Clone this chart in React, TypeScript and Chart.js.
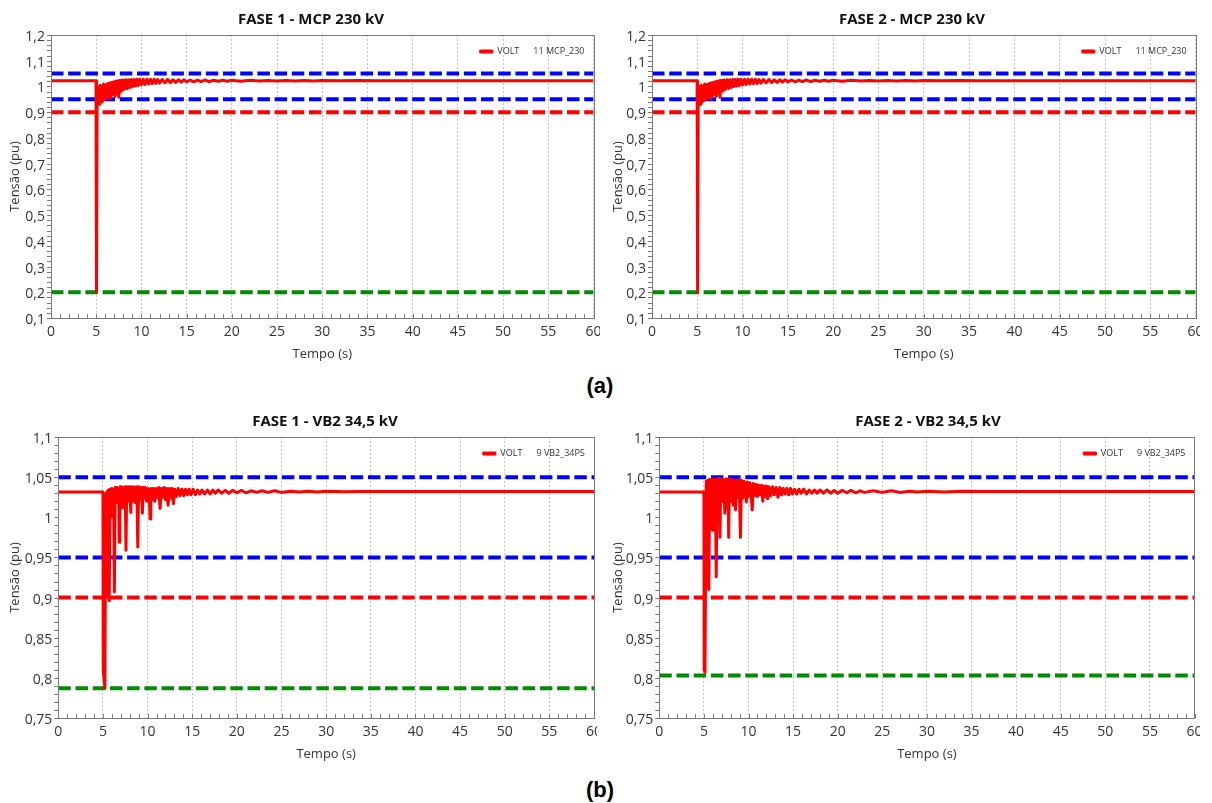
import React, { useEffect, useRef } from 'react';
import { Chart, registerables } from 'chart.js';

Chart.register(...registerables);

const FONT = "'Open Sans', 'DejaVu Sans', sans-serif";

// ---------------- DATA ----------------
// x axis (Tempo, s)
const tempoRange = [0, 60];
const tempoStep = 5;

// 230 kV bus (MCP_230) – same response in both phases
const tempoMCP = [
  0, 4.98, 5.0, 5.02, 5.07, 5.1, 5.16, 5.22, 5.3, 5.38,
  5.46, 5.55, 5.64, 5.72, 5.82, 5.9, 6.0, 6.1, 6.2, 6.3,
  6.4, 6.5, 6.6, 6.7, 6.8, 6.9, 7.0, 7.1, 7.2, 7.3,
  7.4, 7.5, 7.6, 7.7, 7.8, 7.9, 8.0, 8.15, 8.3, 8.45,
  8.6, 8.75, 8.9, 9.05, 9.2, 9.35, 9.5, 9.65, 9.8, 10.0,
  10.2, 10.4, 10.6, 10.8, 11.0, 11.2, 11.4, 11.6, 11.8, 12.0,
  12.3, 12.6, 12.9, 13.2, 13.5, 13.8, 14.1, 14.4, 14.7, 15.0,
  15.4, 15.8, 16.2, 16.6, 17.0, 17.5, 18.0, 18.5, 19.0, 19.5,
  20, 21, 22, 23, 24, 25, 26, 27, 28, 29,
  30, 32, 34, 36, 40, 45, 50, 55, 60,
];
const voltMCP = [
  1.022, 1.022, 1.02, 0.2, 0.2, 0.93, 0.995, 0.935, 1.0, 0.93,
  1.005, 0.94, 1.0, 0.945, 1.01, 0.95, 1.005, 0.955, 1.01, 0.958,
  1.012, 0.952, 1.014, 0.965, 1.016, 0.97, 1.018, 0.962, 1.02, 0.975,
  1.022, 0.958, 1.023, 0.98, 1.024, 0.985, 1.025, 0.99, 1.026, 0.992,
  1.026, 0.996, 1.027, 1.0, 1.027, 1.002, 1.028, 1.004, 1.028, 1.006,
  1.028, 1.008, 1.028, 1.01, 1.028, 1.011, 1.028, 1.012, 1.027, 1.013,
  1.027, 1.014, 1.027, 1.015, 1.026, 1.016, 1.026, 1.017, 1.026, 1.018,
  1.025, 1.018, 1.025, 1.019, 1.025, 1.019, 1.024, 1.02, 1.024, 1.02,
  1.024, 1.02, 1.024, 1.021, 1.023, 1.021, 1.023, 1.021, 1.023, 1.021,
  1.023, 1.022, 1.023, 1.022, 1.022, 1.022, 1.022, 1.022, 1.022,
];

// 34.5 kV bus (VB2_34P5) – phase 1
const tempoVB2F1 = [
  0, 4.98, 5.0, 5.03, 5.12, 5.22, 5.27, 5.33, 5.4, 5.47,
  5.55, 5.62, 5.7, 5.8, 5.9, 6.0, 6.1, 6.2, 6.28, 6.36,
  6.45, 6.55, 6.65, 6.75, 6.82, 6.9, 7.0, 7.1, 7.2, 7.3,
  7.4, 7.5, 7.58, 7.66, 7.8, 7.95, 8.05, 8.12, 8.2, 8.35,
  8.5, 8.65, 8.8, 8.9, 9.0, 9.15, 9.3, 9.42, 9.5, 9.6,
  9.75, 9.9, 10.05, 10.2, 10.28, 10.36, 10.5, 10.65, 10.8, 10.95,
  11.1, 11.25, 11.4, 11.55, 11.7, 11.85, 12.0, 12.15, 12.3, 12.45,
  12.6, 12.75, 12.9, 13.05, 13.25, 13.45, 13.65, 13.85, 14.05, 14.25,
  14.45, 14.65, 14.85, 15.1, 15.35, 15.6, 15.85, 16.1, 16.4, 16.7,
  17.0, 17.3, 17.6, 17.9, 18.3, 18.7, 19.1, 19.5, 20.0, 20.5,
  21, 21.6, 22.2, 22.8, 23.5, 24.2, 25, 26, 27, 28,
  29, 30, 32, 34, 36, 38, 40, 45, 50, 60,
];
const voltVB2F1 = [
  1.0315, 1.0315, 1.03, 0.81, 0.8, 0.787, 0.93, 1.03, 0.9, 1.032,
  0.92, 1.034, 0.896, 1.035, 1.0, 1.036, 1.015, 1.034, 0.907, 1.037,
  1.018, 1.037, 1.025, 1.036, 0.969, 1.038, 1.02, 1.038, 1.012, 1.037,
  1.022, 1.038, 0.959, 1.038, 1.02, 1.038, 1.024, 1.006, 1.038, 1.02,
  1.038, 1.018, 1.038, 0.963, 1.038, 1.022, 1.037, 1.005, 1.037, 1.024,
  1.037, 1.02, 1.036, 1.024, 0.998, 1.036, 1.022, 1.036, 1.02, 1.036,
  1.025, 1.037, 1.011, 1.036, 1.025, 1.037, 1.022, 1.036, 1.015, 1.036,
  1.024, 1.036, 1.017, 1.035, 1.026, 1.036, 1.027, 1.035, 1.027, 1.035,
  1.028, 1.035, 1.028, 1.035, 1.028, 1.034, 1.029, 1.034, 1.029, 1.034,
  1.029, 1.034, 1.03, 1.034, 1.03, 1.0335, 1.03, 1.0335, 1.0305, 1.0335,
  1.0305, 1.033, 1.031, 1.033, 1.031, 1.033, 1.031, 1.0325, 1.0315, 1.0325,
  1.0315, 1.0325, 1.0318, 1.0322, 1.032, 1.032, 1.032, 1.032, 1.032, 1.032,
];

// 34.5 kV bus (VB2_34P5) – phase 2
const tempoVB2F2 = [
  0, 4.98, 5.0, 5.03, 5.12, 5.2, 5.26, 5.35, 5.45, 5.55,
  5.65, 5.75, 5.85, 5.93, 6.02, 6.15, 6.28, 6.38, 6.48, 6.6,
  6.7, 6.8, 6.9, 7.05, 7.2, 7.35, 7.5, 7.62, 7.7, 7.78,
  7.86, 8.0, 8.15, 8.3, 8.45, 8.55, 8.65, 8.8, 8.95, 9.1,
  9.2, 9.35, 9.5, 9.65, 9.76, 9.85, 10.0, 10.15, 10.3, 10.42,
  10.52, 10.7, 10.85, 11.0, 11.15, 11.3, 11.45, 11.6, 11.7, 11.85,
  12.0, 12.15, 12.3, 12.5, 12.7, 12.9, 13.1, 13.3, 13.5, 13.7,
  13.9, 14.1, 14.3, 14.5, 14.7, 14.9, 15.15, 15.4, 15.65, 15.9,
  16.2, 16.5, 16.8, 17.1, 17.4, 17.7, 18.0, 18.4, 18.8, 19.2,
  19.6, 20.0, 20.5, 21, 21.5, 22, 22.5, 23, 24, 25,
  26, 27, 28, 29, 30, 32, 34, 36, 40, 60,
];
const voltVB2F2 = [
  1.0315, 1.0315, 1.03, 0.81, 0.807, 0.95, 1.045, 0.912, 1.046, 0.91,
  1.047, 1.0, 1.047, 0.984, 1.048, 1.02, 1.047, 0.926, 1.048, 1.015,
  1.048, 0.975, 1.048, 1.02, 1.047, 1.005, 1.048, 1.012, 1.047, 0.975,
  1.048, 1.02, 1.047, 1.015, 1.046, 1.009, 1.046, 1.025, 1.047, 0.975,
  1.046, 1.024, 1.045, 1.03, 1.019, 1.044, 1.026, 1.043, 1.028, 1.009,
  1.042, 1.027, 1.041, 1.026, 1.04, 1.028, 1.04, 1.02, 1.039, 1.026,
  1.039, 1.023, 1.038, 1.027, 1.038, 1.028, 1.037, 1.025, 1.037, 1.028,
  1.036, 1.029, 1.036, 1.028, 1.036, 1.029, 1.035, 1.029, 1.035, 1.03,
  1.035, 1.029, 1.034, 1.03, 1.034, 1.03, 1.034, 1.03, 1.034, 1.03,
  1.0335, 1.03, 1.0335, 1.0305, 1.0335, 1.0305, 1.033, 1.031, 1.033, 1.031,
  1.033, 1.031, 1.0325, 1.0315, 1.0325, 1.0315, 1.0325, 1.032, 1.032, 1.032,
];

// Limits: upper blue, lower blue, red, green
const limitsMCP = [1.05, 0.95, 0.9, 0.2];
const limitsVB2F1 = [1.05, 0.95, 0.9, 0.787];
const limitsVB2F2 = [1.05, 0.95, 0.9, 0.803];
const limitColors = ['#0000ff', '#0000ff', '#ff0000', '#008a00'];

// y axis ranges / tick steps
const yRangeMCP = [0.1, 1.2];
const yStepMCP = 0.1;
const yMinorMCP = 0.02;
const yRangeVB2 = [0.75, 1.1];
const yStepVB2 = 0.05;
const yMinorVB2 = 0.01;

// legend styling
const LEG_FONT = 9;
const LEG_BOX = 13;
const LEG_PAD = 12;

// ---------------- PLUGINS ----------------
const frameTicks = {
  id: 'frameTicks',
  afterDraw(chart: any, _args: any, opts: any) {
    const { ctx, chartArea: a } = chart;
    const xs = chart.scales.x;
    const ys = chart.scales.y;
    ctx.save();
    ctx.strokeStyle = '#7a7a7a';
    ctx.lineWidth = 1;
    ctx.beginPath();
    const nx = Math.round((xs.max - xs.min) / opts.xMinor);
    for (let i = 0; i <= nx; i++) {
      const px = Math.round(xs.getPixelForValue(xs.min + i * opts.xMinor)) + 0.5;
      ctx.moveTo(px, a.bottom);
      ctx.lineTo(px, a.bottom - 4);
    }
    const ny = Math.round((ys.max - ys.min) / opts.yMinor);
    for (let i = 0; i <= ny; i++) {
      const py = Math.round(ys.getPixelForValue(ys.min + i * opts.yMinor)) + 0.5;
      ctx.moveTo(a.left, py);
      ctx.lineTo(a.left - 4, py);
    }
    ctx.stroke();
    ctx.strokeRect(
      Math.round(a.left) + 0.5,
      Math.round(a.top) + 0.5,
      Math.round(a.right - a.left),
      Math.round(a.bottom - a.top)
    );
    ctx.restore();
  },
};

// places the library legend in the top-right corner inside the plot area
const legendInside = {
  id: 'legendInside',
  afterLayout(chart: any, _args: any, opts: any) {
    const lg = chart.legend;
    if (!lg || !lg.legendItems || !lg.legendItems.length) return;
    const a = chart.chartArea;
    const ctx = chart.ctx;
    ctx.save();
    ctx.font = `${LEG_FONT}px ${FONT}`;
    const tw = Math.max(...lg.legendItems.map((it: any) => ctx.measureText(it.text).width));
    ctx.restore();
    const w = LEG_PAD + LEG_BOX + LEG_FONT / 2 + tw;
    lg.left = a.right - opts.gap - w;
    lg.right = a.right - opts.gap;
    lg.top = a.top;
    lg.bottom = a.bottom;
  },
};

const fmt = (v: any) => {
  const n = Math.round(Number(v) * 100) / 100;
  return String(n).replace('.', ',');
};

type PanelCfg = {
  title: string;
  legend: string;
  tempo: number[];
  volt: number[];
  limits: number[];
  yRange: number[];
  yStep: number;
  yMinor: number;
  left: number;
  top: number;
  clipW: number;
  cw: number;
  h: number;
  yW: number;
  rW: number;
};

function Panel({ cfg }: { cfg: PanelCfg }) {
  const ref = useRef<HTMLCanvasElement>(null);
  useEffect(() => {
    if (!ref.current) return;
    const main = {
      label: cfg.legend,
      data: cfg.tempo.map((t, i) => ({ x: t, y: cfg.volt[i] })),
      borderColor: '#ff0000',
      backgroundColor: '#ff0000',
      borderWidth: 3,
      borderJoinStyle: 'round',
      pointRadius: 0,
      tension: 0,
      yAxisID: 'y',
    };
    const lims = cfg.limits.map((L, i) => ({
      label: 'lim' + i,
      data: [
        { x: tempoRange[0], y: L },
        { x: tempoRange[1], y: L },
      ],
      borderColor: limitColors[i],
      backgroundColor: limitColors[i],
      borderWidth: 4,
      borderDash: [12.5, 4.7],
      pointRadius: 0,
      yAxisID: 'y',
    }));
    const tickFont = { family: FONT, size: 14 };
    const titleFont = { family: FONT, size: 13 };
    const chart = new Chart(ref.current, {
      type: 'line',
      data: { datasets: [main, ...lims] as any },
      options: {
        responsive: false,
        animation: false,
        events: [],
        devicePixelRatio: 1,
        layout: { padding: 0 },
        scales: {
          x: {
            type: 'linear',
            min: tempoRange[0],
            max: tempoRange[1],
            ticks: {
              stepSize: tempoStep,
              font: tickFont,
              color: '#333',
              padding: 6,
              maxRotation: 0,
              autoSkip: false,
            },
            grid: { color: '#c4c4c4', lineWidth: 1, drawTicks: false, borderDash: [2, 2] } as any,
            border: { display: false, dash: [2, 2] },
            title: {
              display: true,
              text: 'Tempo (s)',
              font: titleFont,
              color: '#333',
              padding: { top: 0, bottom: 10 },
            },
            afterFit: (s: any) => {
              s.height = 54;
            },
          },
          y: {
            type: 'linear',
            position: 'left',
            min: cfg.yRange[0],
            max: cfg.yRange[1],
            ticks: {
              stepSize: cfg.yStep,
              font: tickFont,
              color: '#333',
              padding: 6,
              labelOffset: 2,
              callback: fmt,
            },
            grid: { display: false, drawTicks: false },
            border: { display: false },
            title: {
              display: true,
              text: 'Tensão (pu)',
              font: titleFont,
              color: '#333',
              padding: { top: 7, bottom: 0 },
            },
            afterFit: (s: any) => {
              s.width = cfg.yW;
            },
          },
          yR: {
            type: 'linear',
            axis: 'y',
            position: 'right',
            display: true,
            grid: { display: false, drawTicks: false },
            ticks: { display: false },
            border: { display: false },
            afterFit: (s: any) => {
              s.width = cfg.rW;
            },
          } as any,
        },
        plugins: {
          title: {
            display: true,
            text: cfg.title,
            color: '#111',
            font: { family: FONT, size: 15, weight: 'bold' },
            padding: { top: 10.5, bottom: 6.5 },
          },
          legend: {
            position: 'chartArea' as any,
            align: 'start',
            labels: {
              font: { family: FONT, size: LEG_FONT },
              color: '#333',
              boxWidth: LEG_BOX,
              boxHeight: 3,
              padding: LEG_PAD,
              textAlign: 'left',
              generateLabels: (c: any) =>
                (Chart.defaults.plugins.legend.labels.generateLabels as any)(c)
                  .filter((it: any) => it.datasetIndex === 0)
                  .map((it: any) => ({
                    ...it,
                    lineWidth: 1,
                    strokeStyle: '#ff0000',
                    fillStyle: '#ff0000',
                    textAlign: 'left',
                  })),
            },
          },
          tooltip: { enabled: false },
          frameTicks: { xMinor: 1, yMinor: cfg.yMinor },
          legendInside: { gap: 9 },
        } as any,
      },
      plugins: [frameTicks, legendInside],
    } as any);
    return () => chart.destroy();
  }, []);
  return (
    <div
      style={{
        position: 'absolute',
        left: cfg.left,
        top: cfg.top,
        width: cfg.clipW,
        height: cfg.h,
        overflow: 'hidden',
      }}
    >
      <canvas
        ref={ref}
        width={cfg.cw}
        height={cfg.h}
        style={{ display: 'block', width: cfg.cw, height: cfg.h }}
      />
    </div>
  );
}

const panels: PanelCfg[] = [
  {
    title: 'FASE 1 - MCP 230 kV',
    legend: 'VOLT      11 MCP_230',
    tempo: tempoMCP,
    volt: voltMCP,
    limits: limitsMCP,
    yRange: yRangeMCP,
    yStep: yStepMCP,
    yMinor: yMinorMCP,
    left: 0,
    top: 0,
    clipW: 600,
    cw: 622,
    h: 372,
    yW: 51,
    rW: 28.5,
  },
  {
    title: 'FASE 2 - MCP 230 kV',
    legend: 'VOLT      11 MCP_230',
    tempo: tempoMCP,
    volt: voltMCP,
    limits: limitsMCP,
    yRange: yRangeMCP,
    yStep: yStepMCP,
    yMinor: yMinorMCP,
    left: 603,
    top: 0,
    clipW: 597,
    cw: 618,
    h: 372,
    yW: 49,
    rW: 25.4,
  },
  {
    title: 'FASE 1 - VB2 34,5 kV',
    legend: 'VOLT      9 VB2_34P5',
    tempo: tempoVB2F1,
    volt: voltVB2F1,
    limits: limitsVB2F1,
    yRange: yRangeVB2,
    yStep: yStepVB2,
    yMinor: yMinorVB2,
    left: 0,
    top: 402,
    clipW: 597,
    cw: 650,
    h: 370,
    yW: 58.3,
    rW: 56,
  },
  {
    title: 'FASE 2 - VB2 34,5 kV',
    legend: 'VOLT      9 VB2_34P5',
    tempo: tempoVB2F2,
    volt: voltVB2F2,
    limits: limitsVB2F2,
    yRange: yRangeVB2,
    yStep: yStepVB2,
    yMinor: yMinorVB2,
    left: 603,
    top: 402,
    clipW: 597,
    cw: 650,
    h: 370,
    yW: 56.3,
    rW: 58.5,
  },
];

const labelStyle: React.CSSProperties = {
  position: 'absolute',
  left: 570,
  width: 60,
  height: 26,
  lineHeight: '26px',
  textAlign: 'center',
  fontFamily: "'Liberation Sans', Arial, sans-serif",
  fontWeight: 'bold',
  fontSize: 22,
  color: '#000',
};

export default function App() {
  return (
    <div
      style={{
        position: 'absolute',
        left: 0,
        top: 0,
        width: 1212,
        height: 803,
        overflow: 'hidden',
        background: '#ffffff',
      }}
    >
      {panels.map((p, i) => (
        <Panel key={i} cfg={p} />
      ))}
      <div style={{ ...labelStyle, top: 373 }}>(a)</div>
      <div style={{ ...labelStyle, top: 777 }}>(b)</div>
    </div>
  );
}
